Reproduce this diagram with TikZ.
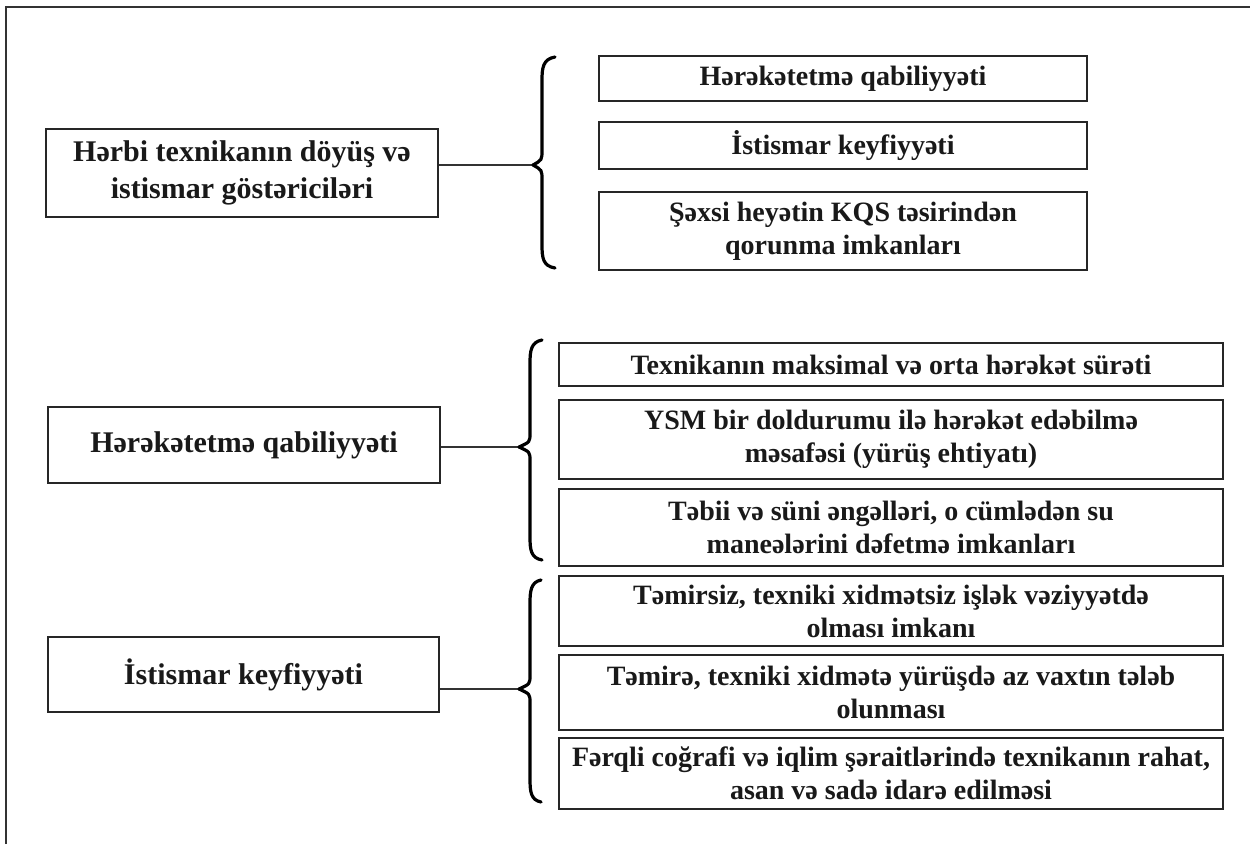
\documentclass[tikz,border=0pt]{standalone}
\usepackage{fontspec}
\setmainfont{Liberation Serif}
\begin{document}
\begin{tikzpicture}[x=1pt,y=-1pt,
  mainbox/.style={draw=black!85, line width=2.2pt, inner sep=0pt, align=center,
    font=\fontsize{30}{37}\selectfont\bfseries, text=black!90},
  subbox/.style={draw=black!85, line width=2.2pt, inner sep=0pt, align=center,
    font=\fontsize{28}{33}\selectfont\bfseries, text=black!90},
  link/.style={line width=1.3pt, draw=black!80},
  bracestyle/.style={line width=3.2pt, line cap=round, line join=round}]
\useasboundingbox (0,0) rectangle (1250,844);
% frame
\draw[line width=2pt, black!80] (6,844) -- (6,7) -- (1250,7);

% ---------- top group ----------
\node[mainbox, minimum width=392, minimum height=88] (A) at (242,173)
  {Hərbi texnikanın döyüş və\\istismar göstəriciləri};
\node[subbox, minimum width=488, minimum height=45] (A1) at (843,78.5) {Hərəkətetmə qabiliyyəti};
\node[subbox, minimum width=488, minimum height=47] (A2) at (843,145.5) {İstismar keyfiyyəti};
\node[subbox, minimum width=488, minimum height=78] (A3) at (843,231) {Şəxsi heyətin KQS təsirindən\\qorunma imkanları};
\coordinate (tA) at (533,165);
\draw[link] (tA -| A.east) -- (tA);
\draw[bracestyle] (555,57) .. controls (543,59) and (542,68) .. (542,80) -- (542,150)
  .. controls (542,160) .. (tA) .. controls (542,170) .. (542,180) -- (542,245)
  .. controls (542,258) and (543,266) .. (555,268);

% ---------- middle group ----------
\node[mainbox, minimum width=392, minimum height=76] (B) at (244,445) {Hərəkətetmə qabiliyyəti};
\node[subbox, minimum width=664, minimum height=43] (B1) at (891,364.5) {Texnikanın maksimal və orta hərəkət sürəti};
\node[subbox, minimum width=664, minimum height=79] (B2) at (891,439.5) {YSM bir doldurumu ilə hərəkət edəbilmə\\məsafəsi (yürüş ehtiyatı)};
\node[subbox, minimum width=664, minimum height=77] (B3) at (891,527.5) {Təbii və süni əngəlləri, o cümlədən su\\maneələrini dəfetmə imkanları};
\coordinate (tB) at (519,447);
\draw[link] (tB -| B.east) -- (tB);
\draw[bracestyle] (542,340) .. controls (531,342) and (530,351) .. (530,363) -- (530,433)
  .. controls (530,442) .. (tB) .. controls (530,452) .. (530,461) -- (530,537)
  .. controls (530,550) and (531,558) .. (542,560);

% ---------- bottom group ----------
\node[mainbox, minimum width=391, minimum height=75] (C) at (243.5,674.5) {İstismar keyfiyyəti};
\node[subbox, minimum width=664, minimum height=70] (C1) at (891,611) {Təmirsiz, texniki xidmətsiz işlək vəziyyətdə\\olması imkanı};
\node[subbox, minimum width=664, minimum height=75] (C2) at (891,692.5) {Təmirə, texniki xidmətə yürüşdə az vaxtın tələb\\olunması};
\node[subbox, minimum width=664, minimum height=71] (C3) at (891,773.5) {Fərqli coğrafi və iqlim şəraitlərində texnikanın rahat,\\asan və sadə idarə edilməsi};
\coordinate (tC) at (519,689);
\draw[link] (tC -| C.east) -- (tC);
\draw[bracestyle] (541,580) .. controls (531,582) and (530,591) .. (530,603) -- (530,675)
  .. controls (530,684) .. (tC) .. controls (530,694) .. (530,703) -- (530,779)
  .. controls (530,792) and (531,800) .. (541,802);
\end{tikzpicture}
\end{document}
